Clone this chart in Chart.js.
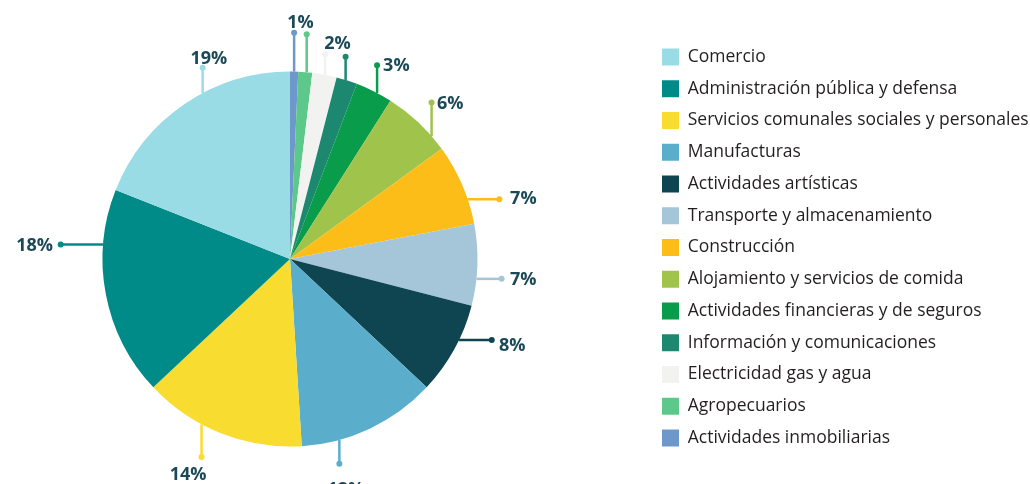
<!DOCTYPE html>
<html>
<head>
<meta charset="utf-8">
<script src="https://cdn.jsdelivr.net/npm/chart.js@4.4.1/dist/chart.umd.min.js"></script>
<style>
  html, body { margin: 0; padding: 0; background: #ffffff; }
  #wrap { width: 1030px; height: 484px; position: relative; }
</style>
</head>
<body>
<div id="wrap"><canvas id="c" width="1030" height="484"></canvas></div>
<script>
// ---- Data (in the order the reference legend lists them) ----
const categories = [
  'Comercio',
  'Administración pública y defensa',
  'Servicios comunales sociales y personales',
  'Manufacturas',
  'Actividades artísticas',
  'Transporte y almacenamiento',
  'Construcción',
  'Alojamiento y servicios de comida',
  'Actividades financieras y de seguros',
  'Información y comunicaciones',
  'Electricidad gas y agua',
  'Agropecuarios',
  'Actividades inmobiliarias'
];
const shares = [19, 18, 14, 12, 8, 7, 7, 6, 3.2, 1.8, 2.1, 1.2, 0.7];
const shareLabels = ['19%', '18%', '14%', '12%', '8%', '7%', '7%', '6%', '3%', '2%', '', '1%', ''];
const sliceColors = [
  '#9adce5', '#008b89', '#f9dc30', '#5aaecb', '#0e4551', '#a5c5d9', '#fdbd18',
  '#a0c44b', '#089c4b', '#1c8870', '#f2f2f0', '#5cc98b', '#6f98ca'
];

// ---- Leader-line placement (style/position only) ----
// f: where on the slice the line attaches (fraction of its span), dir: direction,
// len: length beyond the rim, dx/dy: text centre offset from the dot, align: text alignment
const leaderLayout = {
  'Comercio':                                  { f: 0.594, dir: 'up',    len: 25.3, dx: 6.3,  dy: -10.3, align: 'center' },
  'Administración pública y defensa':          { f: 0.735, dir: 'left',  len: 42.4, dx: -7.7, dy: 0.5,   align: 'right' },
  'Servicios comunales sociales y personales': { f: 0.63,  dir: 'down',  len: 32.7, dx: -13.4, dy: 16.3, align: 'center' },
  'Manufacturas':                              { f: 0.73,  dir: 'down',  len: 23.8, dx: 6.5,  dy: 25,    align: 'center' },
  'Actividades artísticas':                    { f: 0.39,  dir: 'right', len: 32.7, dx: 7.3,  dy: 4.3,   align: 'left' },
  'Transporte y almacenamiento':               { f: 0.67,  dir: 'right', len: 25.2, dx: 8.3,  dy: 0,     align: 'left' },
  'Construcción':                              { f: 0.69,  dir: 'right', len: 31.7, dx: 10.7, dy: -1.8,  align: 'left' },
  'Alojamiento y servicios de comida':         { f: 0.77,  dir: 'up',    len: 33.5, dx: 5.3,  dy: 0.2,   align: 'left' },
  'Actividades financieras y de seguros':      { f: 0.59,  dir: 'up',    len: 27.7, dx: 6,    dy: -0.2,  align: 'left' },
  'Información y comunicaciones':              { f: 0.44,  dir: 'up',    len: 23.2, dx: -8.2, dy: -14.3, align: 'center' },
  'Electricidad gas y agua':                   { f: 0.52,  dir: 'up',    len: 20.3, dx: 0,    dy: 0,     align: 'center' },
  'Agropecuarios':                             { f: 0.6,   dir: 'up',    len: 38,   dx: -6.2, dy: -12.7, align: 'center' },
  'Actividades inmobiliarias':                 { f: 0.5,   dir: 'up',    len: 38.7, dx: 0,    dy: 0,     align: 'center' }
};

// Slices run clockwise from 12 o'clock starting with the last legend entry,
// so the dataset is the reversed list and the legend is shown reversed.
const drawLabels = categories.slice().reverse();
const drawValues = shares.slice().reverse();
const drawColors = sliceColors.slice().reverse();
const drawTexts  = shareLabels.slice().reverse();

const leaderPlugin = {
  id: 'leaders',
  afterLayout(chart, args, opts) {
    const ca = chart.chartArea;
    ca.left = opts.centerX - opts.halfWidth;
    ca.right = opts.centerX + opts.halfWidth;
    ca.width = ca.right - ca.left;
    const lg = chart.legend;
    if (lg) {
      const dx = opts.legendLeft - lg.left;
      lg.left += dx; lg.right += dx;
    }
  },
  afterDatasetsDraw(chart, args, opts) {
    const ctx = chart.ctx;
    const meta = chart.getDatasetMeta(0);
    const ds = chart.data.datasets[0];
    meta.data.forEach((arc, i) => {
      const cfg = opts.layout[chart.data.labels[i]];
      if (!cfg) return;
      const p = arc.getProps(['x', 'y', 'startAngle', 'endAngle', 'outerRadius'], true);
      const a = p.startAngle + cfg.f * (p.endAngle - p.startAngle);
      const ex = p.x + p.outerRadius * Math.cos(a);
      const ey = p.y + p.outerRadius * Math.sin(a);
      let px = ex, py = ey;
      if (cfg.dir === 'up') py -= cfg.len;
      else if (cfg.dir === 'down') py += cfg.len;
      else if (cfg.dir === 'left') px -= cfg.len;
      else px += cfg.len;
      const color = ds.backgroundColor[i];
      ctx.save();
      ctx.strokeStyle = color;
      ctx.lineWidth = opts.lineWidth;
      ctx.beginPath();
      ctx.moveTo(ex, ey);
      ctx.lineTo(px, py);
      ctx.stroke();
      ctx.fillStyle = color;
      ctx.beginPath();
      ctx.arc(px, py, opts.dotRadius, 0, Math.PI * 2);
      ctx.fill();
      const text = opts.texts[i];
      if (text) {
        ctx.fillStyle = opts.textColor;
        ctx.font = opts.font;
        ctx.textAlign = cfg.align;
        ctx.textBaseline = 'alphabetic';
        ctx.fillText(text, px + cfg.dx, py + cfg.dy + opts.capHalf);
      }
      ctx.restore();
    });
  }
};

new Chart(document.getElementById('c'), {
  type: 'pie',
  data: {
    labels: drawLabels,
    datasets: [{
      data: drawValues,
      backgroundColor: drawColors,
      borderWidth: 0,
      radius: 187.5
    }]
  },
  options: {
    responsive: false,
    animation: false,
    devicePixelRatio: 1,
    layout: { padding: { top: 34, bottom: 0, left: 0, right: 0 } },
    plugins: {
      tooltip: { enabled: false },
      legend: {
        position: 'right',
        align: 'start',
        reverse: true,
        labels: {
          boxWidth: 17,
          boxHeight: 17,
          padding: 14.25,
          color: '#231f20',
          font: { family: '"Open Sans"', size: 17.5 }
        }
      },
      leaders: {
        layout: leaderLayout,
        texts: drawTexts,
        centerX: 290,
        halfWidth: 290,
        legendLeft: 647.75,
        lineWidth: 2.5,
        dotRadius: 3,
        textColor: '#1b4957',
        font: 'bold 18px "Open Sans"',
        capHalf: 6.4
      }
    }
  },
  plugins: [leaderPlugin]
});
</script>
</body>
</html>
